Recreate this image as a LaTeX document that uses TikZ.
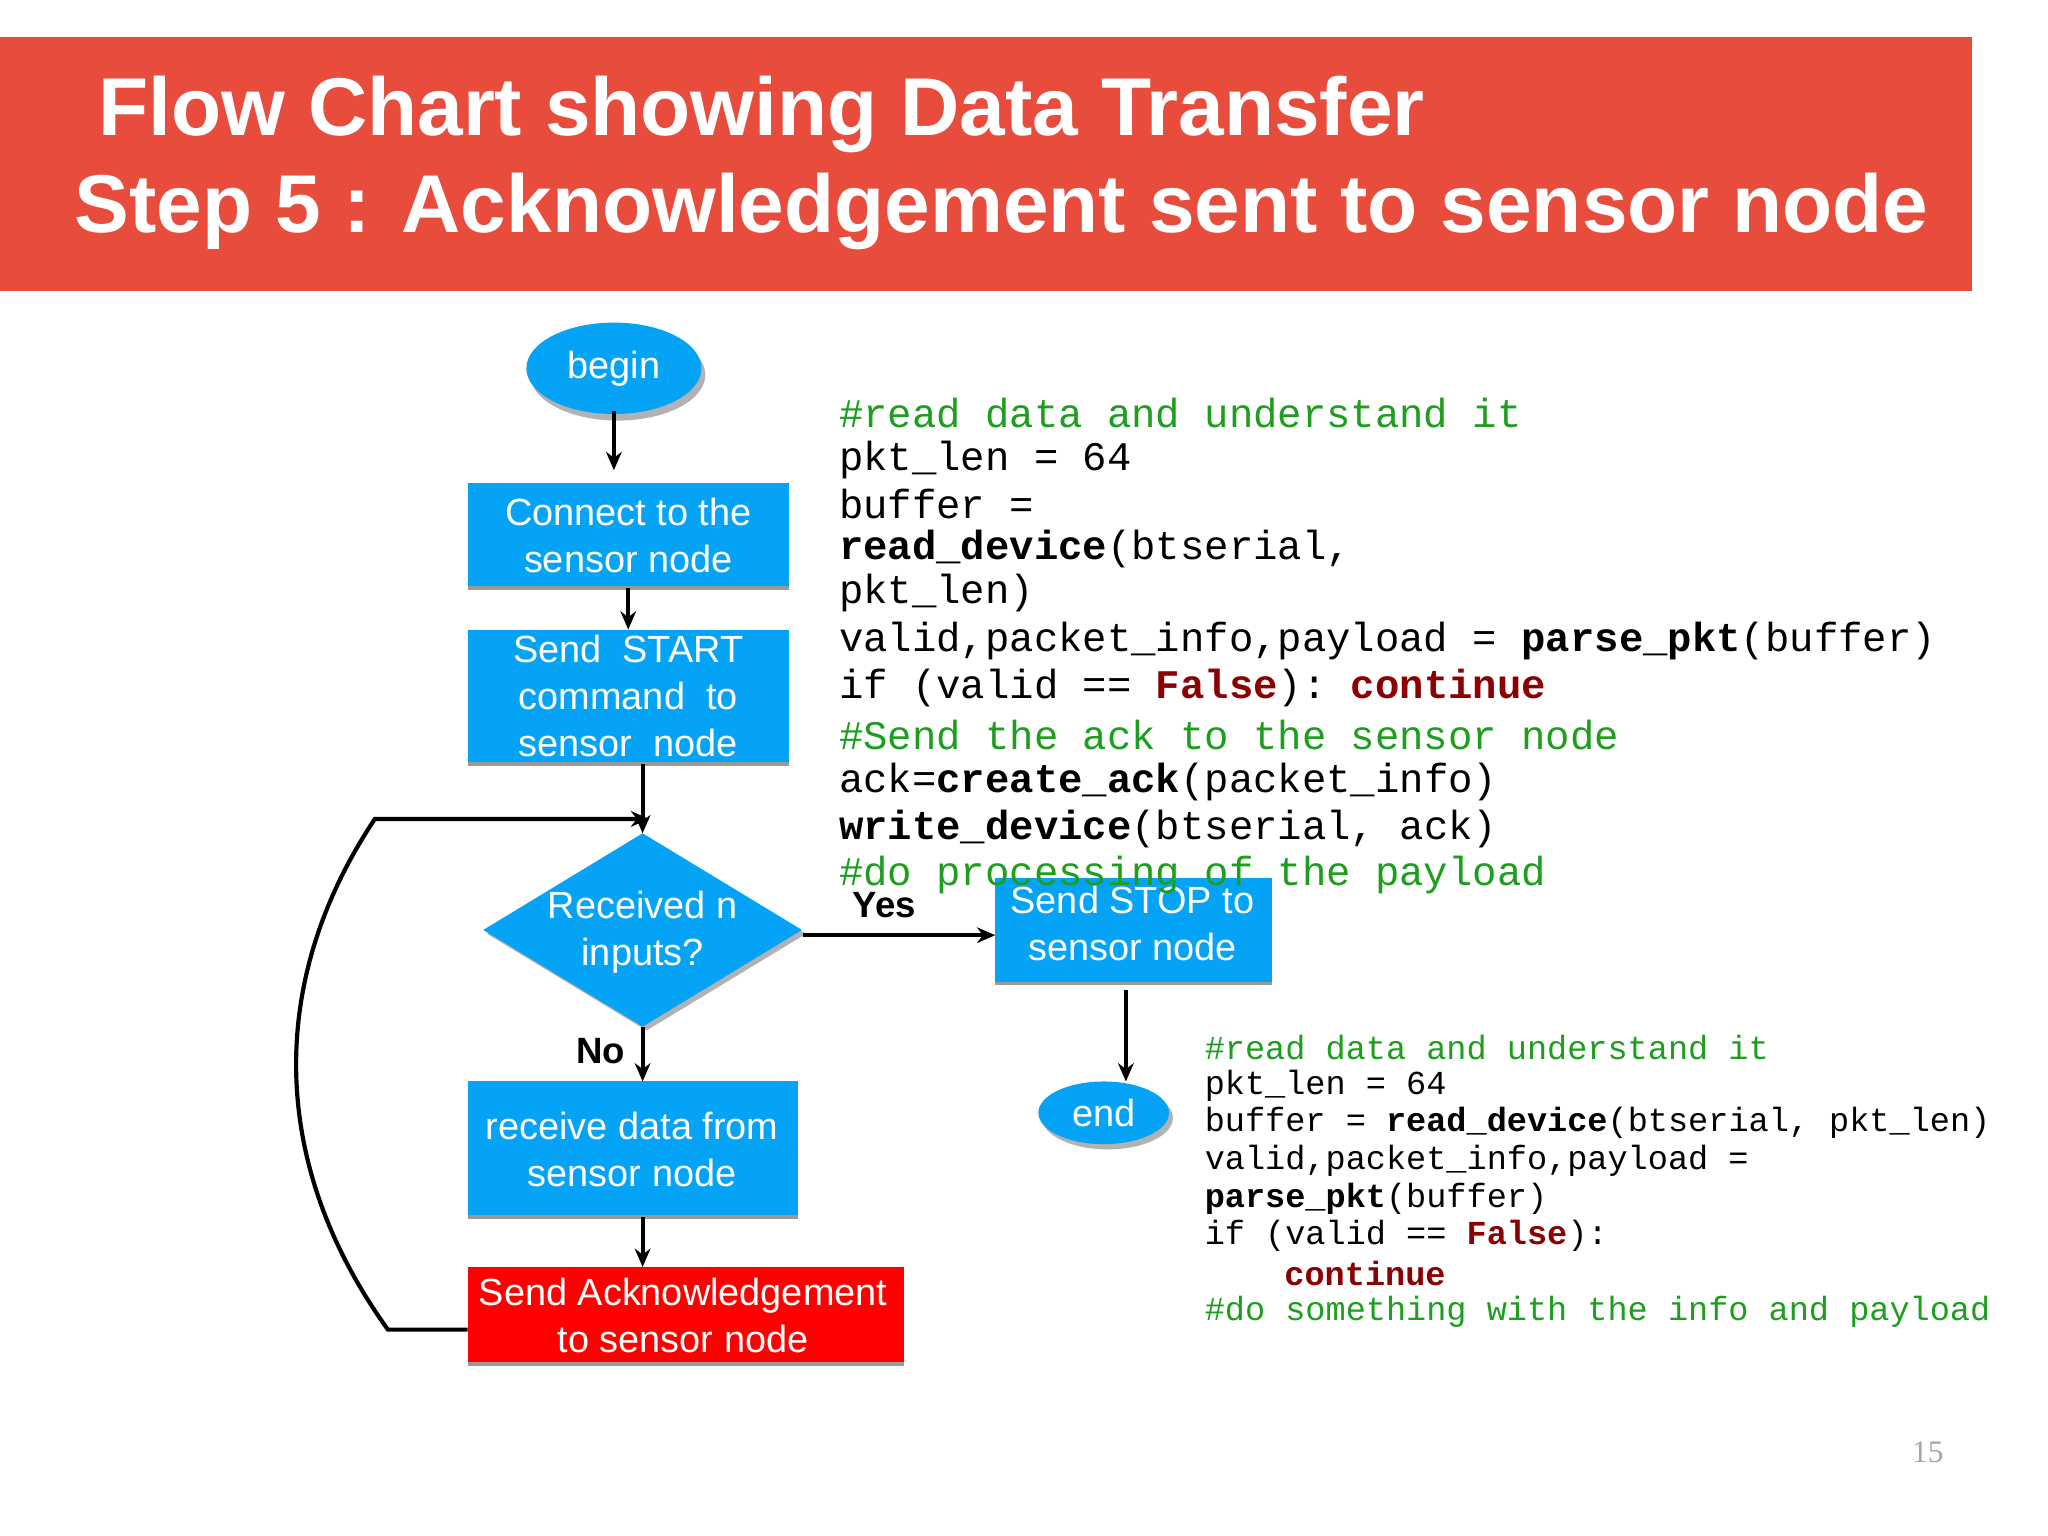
\documentclass[tikz,border=0pt]{standalone}
\usepackage{fontspec}
\setmainfont{Liberation Sans}
\setmonofont{Liberation Mono}
\usetikzlibrary{shapes.geometric,arrows.meta}
\definecolor{ban}{HTML}{E74C3C}
\definecolor{nblue}{HTML}{05A3F5}
\definecolor{cgreen}{HTML}{1E9E1E}
\definecolor{cred}{HTML}{8B0000}
\begin{document}
\begin{tikzpicture}[x=0.5pt,y=-0.5pt,
  shad/.style={draw=gray!80,line width=1.5pt},
  arr/.style={-{Stealth[length=7pt,width=6pt]},line width=1.6pt},
  cA/.style={anchor=west,inner sep=0pt,font=\ttfamily\fontsize{15.55}{18}\selectfont},
  cB/.style={anchor=west,inner sep=0pt,font=\ttfamily\fontsize{12.85}{15}\selectfont},
  lbl/.style={font=\bfseries\fontsize{14}{16}\selectfont}]
\useasboundingbox (0,0) rectangle (1568,1176);
\fill[white] (0,0) rectangle (1568,1176);
\fill[ban] (0,28) rectangle (1510,223);
\node[anchor=west,text=white,font=\bfseries\fontsize{31.4}{36}\selectfont,inner sep=0pt] (t1) at (75,88) {Flow Chart showing Data Transfer};
\node[anchor=west,text=white,font=\bfseries\fontsize{31.4}{36}\selectfont,inner sep=0pt] (t2) at (57,162) {Step 5 : Acknowledgement sent to sensor node};
% nodes
\fill[gray!60] (473,287) ellipse (67 and 35);
\node[ellipse,fill=nblue,text=white,minimum width=67pt,minimum height=35pt,inner sep=0pt,font=\fontsize{14.5}{18}\selectfont] (begin) at (470,282) {begin};
\fill[nblue] (358,370) rectangle (604,450); \draw[shad] (358,450) -- (604,450);
\node[text=white,font=\fontsize{14.5}{18}\selectfont,align=center] (connect) at (481,410) {Connect to the\\sensor node};
\fill[nblue] (358,482) rectangle (604,585); \draw[shad] (358,585) -- (604,585);
\node[text=white,font=\fontsize{14.5}{18}\selectfont,align=center] (start) at (481,533) {Send\ \ START\\command\ \ to\\sensor\ \ node};
\fill[gray!60] (373,715) -- (495,641) -- (617,715) -- (495,789) -- cycle;
\fill[nblue] (370,712) -- (492,638) -- (614,712) -- (492,786) -- cycle;
\node[text=white,font=\fontsize{14.5}{18}\selectfont,align=center] (dec) at (492,714) {Received n\\inputs?};
\fill[nblue] (358,828) rectangle (611,932); \draw[shad] (358,932) -- (611,932);
\node[text=white,font=\fontsize{14.5}{18}\selectfont,align=center] (recv) at (484,880) {receive data from\\sensor node};
\fill[red] (358,970) rectangle (692,1044); \draw[shad] (358,1044) -- (692,1044);
\node[text=white,font=\fontsize{14.5}{18}\selectfont,align=center] (ack) at (523,1007) {Send Acknowledgement\\to sensor node};
\fill[nblue] (762,672) rectangle (974,753); \draw[shad] (762,753) -- (974,753);
\node[text=white,font=\fontsize{14.5}{18}\selectfont,align=center] (stop) at (867,707) {Send STOP to\\sensor node};
\fill[gray!60] (848,856) ellipse (50 and 24);
\node[ellipse,fill=nblue,text=white,minimum width=50pt,minimum height=24pt,inner sep=0pt,font=\fontsize{14.5}{18}\selectfont] (end) at (845,852) {end};
% connectors
\coordinate (a1) at (470,315); \coordinate (a2) at (470,360);
\draw[arr] (a1) -- (a2);
\coordinate (b1) at (481,450); \coordinate (b2) at (481,482);
\draw[arr] (b1) -- (b2);
\coordinate (c1) at (492,585); \coordinate (c2) at (492,638);
\draw[arr] (c1) -- (c2);
\coordinate (d1) at (492,786); \coordinate (d2) at (492,828);
\draw[arr] (d1) -- (d2);
\coordinate (e1) at (492,932); \coordinate (e2) at (492,970);
\draw[arr] (e1) -- (e2);
\coordinate (f1) at (615,716); \coordinate (f2) at (762,716);
\draw[arr] (f1) -- (f2);
\coordinate (g1) at (862,758); \coordinate (g2) at (862,828);
\draw[arr] (g1) -- (g2);
\coordinate (h1) at (358,1018); \coordinate (h2) at (297,1018); \coordinate (h3) at (287,627); \coordinate (h4) at (497,627);
\draw[arr] (h1) -- (h2) .. controls (205,890) and (205,750) .. (h3) -- (h4);
\node[lbl] (yes) at (677,693) {Yes};
\node[lbl] (no) at (460,805) {No};
\node[text=gray!70,font=\fontspec{Liberation Serif}\fontsize{12}{14}\selectfont] (pg) at (1476,1112) {15};
% code block 1
\node[cA,text=cgreen] (k1) at (642,316) {\#read data and understand it};
\node[cA] (k2) at (642,352) {pkt\_len = 64};
\node[cA] (k3) at (642,386) {buffer =};
\node[cA] (k4) at (642,420) {\textbf{read\_device}(btserial,};
\node[cA] (k5) at (642,454) {pkt\_len)};
\node[cA] (k6) at (642,491) {valid,packet\_info,payload = \textbf{parse\_pkt}(buffer)};
\node[cA] (k7) at (642,527) {if (valid == \textcolor{cred}{\textbf{False}}): \textcolor{cred}{\textbf{continue}}};
\node[cA,text=cgreen] (k8) at (642,563) {\#Send the ack to the sensor node};
\node[cA] (k9) at (642,599) {ack=\textbf{create\_ack}(packet\_info)};
\node[cA] (k10) at (642,635) {\textbf{write\_device}(btserial, ack)};
\node[cA,text=cgreen] (k11) at (642,670) {\#do processing of the payload};
% code block 2
\node[cB,text=cgreen] (m1) at (922,802) {\#read data and understand it};
\node[cB] (m2) at (922,831) {pkt\_len = 64};
\node[cB] (m3) at (922,860) {buffer = \textbf{read\_device}(btserial, pkt\_len)};
\node[cB] (m4) at (922,889) {valid,packet\_info,payload =};
\node[cB] (m5) at (922,918) {\textbf{parse\_pkt}(buffer)};
\node[cB] (m6) at (922,946) {if (valid == \textcolor{cred}{\textbf{False}}):};
\node[cB,text=cred] (m7) at (983,975) {\textbf{continue}};
\node[cB,text=cgreen] (m8) at (922,1004) {\#do something with the info and payload};
\end{tikzpicture}
\end{document}
